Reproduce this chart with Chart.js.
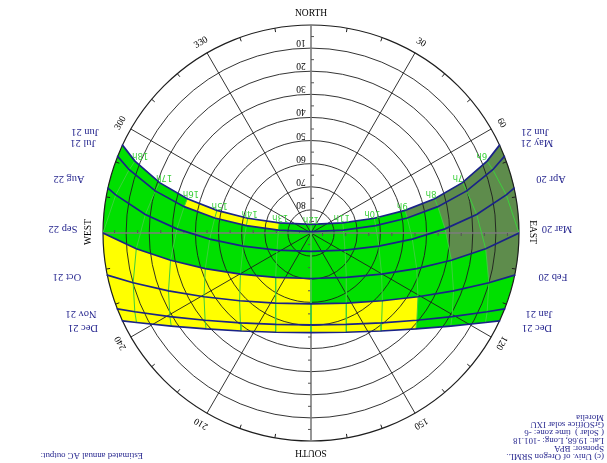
<!DOCTYPE html>
<html>
<head>
<meta charset="utf-8">
<title>Sun path chart - Morelia</title>
<script src="https://cdn.jsdelivr.net/npm/chart.js@4.4.1/dist/chart.umd.min.js"></script>
<style>
  html, body { margin: 0; padding: 0; background: #ffffff; }
  #wrap { width: 607px; height: 463px; }
</style>
</head>
<body>
<div id="wrap"><canvas id="sunchart" width="607" height="463"></canvas></div>
<script>
// ---- Site ----
const siteLatitude = 19.68;
const siteLongitude = -101.18;

// ---- Solar hours (solar time) and their labels ----
const hours = [6, 7, 8, 9, 10, 11, 12, 13, 14, 15, 16, 17, 18];
const hourLabels = ['6h', '7h', '8h', '9h', '10h', '11h', '12h', '13h', '14h', '15h', '16h', '17h', '18h'];

// ---- Date paths (labels on the east and west ends) ----
const eastDateLabels = ['Jun 21', 'May 21', 'Apr 20', 'Mar 20', 'Feb 20', 'Jan 21', 'Dec 21'];
const westDateLabels = ['Jun 21', 'Jul 21', 'Aug 22', 'Sep 22', 'Oct 21', 'Nov 21', 'Dec 21'];

// Solar altitude (deg) at each hour, null = sun below horizon
const altJun21 = [7.70, 20.95, 34.46, 48.14, 61.88, 75.57, 86.24, 75.57, 61.88, 48.14, 34.46, 20.95, 7.70];
const altMay21 = [6.71, 20.21, 33.95, 47.84, 61.84, 75.87, 89.38, 75.87, 61.84, 47.84, 33.95, 20.21, 6.71];
const altApr20 = [3.92, 17.88, 31.96, 46.08, 60.09, 73.52, 82.02, 73.52, 60.09, 46.08, 31.96, 17.88, 3.92];
const altMar20 = [0.00, 14.10, 28.09, 41.74, 54.64, 65.42, 70.32, 65.42, 54.64, 41.74, 28.09, 14.10, 0.00];
const altFeb20 = [null, 10.08, 23.45, 36.11, 47.41, 55.95, 59.32, 55.95, 47.41, 36.11, 23.45, 10.08, null];
const altJan21 = [null, 6.50, 19.05, 30.63, 40.55, 47.59, 50.22, 47.59, 40.55, 30.63, 19.05, 6.50, null];
const altDec21 = [null, 5.14, 17.34, 28.48, 37.89, 44.47, 46.88, 44.47, 37.89, 28.48, 17.34, 5.14, null];

// Solar azimuth (deg from north, clockwise) at each hour
const azJun21 = [67.79, 71.61, 74.52, 76.47, 76.88, 72.24, 0.00, 287.76, 283.12, 283.53, 285.48, 288.39, 292.21];
const azMay21 = [70.80, 74.87, 78.26, 81.14, 83.54, 84.92, 0.00, 275.08, 276.46, 278.86, 281.74, 285.13, 289.20];
const azApr20 = [78.97, 83.63, 88.24, 93.49, 100.94, 116.73, 180.00, 243.27, 259.06, 266.51, 271.76, 276.37, 281.03];
const azMar20 = [90.00, 95.16, 101.00, 108.61, 120.26, 141.50, 180.00, 218.50, 239.74, 251.39, 259.00, 264.84, 270.00];
const azFeb20 = [null, 105.63, 112.09, 120.78, 133.51, 153.01, 180.00, 206.99, 226.49, 239.22, 247.91, 254.37, null];
const azJan21 = [null, 114.08, 120.64, 129.49, 141.84, 158.90, 180.00, 201.10, 218.16, 230.51, 239.36, 245.92, null];
const azDec21 = [null, 117.15, 123.66, 132.43, 144.46, 160.57, 180.00, 199.43, 215.54, 227.57, 236.34, 242.85, null];

// Sunrise / sunset for each date path (solar hour and azimuth)
const sunriseHour = [5.41, 5.49, 5.72, 6.00, 6.27, 6.50, 6.59];
const sunriseAz   = [65.01, 68.38, 77.56, 90.00, 101.69, 111.41, 114.99];
const sunsetHour  = [18.59, 18.51, 18.28, 18.00, 17.73, 17.50, 17.41];
const sunsetAz    = [294.99, 291.62, 282.44, 270.00, 258.31, 248.59, 245.01];

// Shading of each band between two date paths, one code per hour slot
// (slots: horizon-6h, 6-7h, ... 17-18h, 18h-horizon); G green, Y yellow, O olive
const shadingRows = [
  'OOOOGGGGYYYGGG',
  'OOOGGGGGGGGGGG',
  'OOOGGGGGGGGGGG',
  'OOGGGGGYYYYYYY',
  'GGGGYYYYYYYYYY',
  'GGGGYYYYYYYYYY'
];

// ---- Sky grid ----
const altitudeRings = [10, 20, 30, 40, 50, 60, 70, 80];
const azimuthTicks = [30, 60, 120, 150, 210, 240, 300, 330];

// ---- Header / footer text ----
const infoLines = ['Morelia', 'GrSOffice solar IXU', '( Solar )  time zone: -6',
  'Lat: 19.68, Long: -101.18', 'Sponsor: BPA', '(c) Univ. of Oregon SRML.'];
const outputLine = 'Estimated annual AC output:';

// ================= drawing =================
const altTable = [altJun21, altMay21, altApr20, altMar20, altFeb20, altJan21, altDec21];
const azTable = [azJun21, azMay21, azApr20, azMar20, azFeb20, azJan21, azDec21];

const shadeColors = { G: '#00e000', Y: '#ffff00', O: '#5e8c4c' };
const pathColor = '#1a2388';
const hourColor = '#3cd03c';
const monthColor = '#27278f';
const serif = '"Liberation Serif", "DejaVu Serif", serif';

// plan position of a sky point: zenith distance along the azimuth, north up, east right
function plan(az, alt) {
  const zd = 90 - alt;
  const a = az * Math.PI / 180;
  return { x: zd * Math.sin(a), y: zd * Math.cos(a) };
}

function pathNodes(d) {
  const nodes = [{ t: sunriseHour[d], az: sunriseAz[d], alt: 0, edge: 'rise' }];
  hours.forEach((h, i) => {
    if (altTable[d][i] !== null) nodes.push({ t: h, az: azTable[d][i], alt: altTable[d][i] });
  });
  nodes.push({ t: sunsetHour[d], az: sunsetAz[d], alt: 0, edge: 'set' });
  return nodes;
}

// part of a date path between two solar hours; ends on the horizon run out past it
function subPath(d, t1, t2) {
  const nodes = pathNodes(d).filter(n => n.t >= t1 - 1e-6 && n.t <= t2 + 1e-6);
  const pts = nodes.map(n => plan(n.az, n.alt));
  if (nodes.length && nodes[0].edge === 'rise') pts.unshift(plan(nodes[0].az, -35));
  if (nodes.length && nodes[nodes.length - 1].edge === 'set') pts.push(plan(nodes[nodes.length - 1].az, -35));
  return pts;
}

const datasets = [];
altTable.forEach((alts, d) => {
  datasets.push({
    label: eastDateLabels[d] + ' / ' + westDateLabels[d],
    data: pathNodes(d).map(n => plan(n.az, n.alt)),
    showLine: true, borderColor: pathColor, borderWidth: 1.7,
    pointRadius: 0, tension: 0, fill: false
  });
});
hours.forEach((h, i) => {
  const pts = [];
  altTable.forEach((alts, d) => { if (alts[i] !== null) pts.push(plan(azTable[d][i], alts[i])); });
  datasets.push({
    label: hourLabels[i], data: pts,
    showLine: true, borderColor: hourColor, borderWidth: 1,
    pointRadius: 0, tension: 0, fill: false
  });
});

function geom(chart) {
  const xs = chart.scales.x, ys = chart.scales.y;
  const cx = xs.getPixelForValue(0), cy = ys.getPixelForValue(0);
  return { xs, ys, cx, cy, R: xs.getPixelForValue(90) - cx,
    P: p => [xs.getPixelForValue(p.x), ys.getPixelForValue(p.y)] };
}

function textAt(ctx, str, x, y, rotDeg, font, color, align) {
  ctx.save();
  ctx.translate(x, y);
  ctx.rotate(rotDeg * Math.PI / 180);
  ctx.font = font;
  ctx.fillStyle = color;
  ctx.textAlign = align || 'center';
  ctx.textBaseline = 'middle';
  ctx.fillText(str, 0, 0);
  ctx.restore();
}

const skyPlugin = {
  id: 'skyBase',
  beforeDatasetsDraw(chart) {
    const ctx = chart.ctx;
    const { cx, cy, R, P } = geom(chart);
    const poly = (pts, color) => {
      ctx.beginPath();
      pts.forEach((p, i) => { const [X, Y] = P(p); if (i) ctx.lineTo(X, Y); else ctx.moveTo(X, Y); });
      ctx.closePath();
      ctx.fillStyle = color;
      ctx.fill();
    };
    // shaded band, clipped to the horizon
    ctx.save();
    ctx.beginPath();
    ctx.arc(cx, cy, R, 0, Math.PI * 2);
    ctx.clip();
    const last = altTable.length - 1;
    poly(subPath(0, 5, 19).concat(subPath(last, 5, 19).reverse()), shadeColors.G);
    shadingRows.forEach((row, r) => {
      let c = 0;
      while (c < row.length) {
        let e = c;
        while (e + 1 < row.length && row[e + 1] === row[c]) e++;
        if (row[c] !== 'G') {
          const t1 = 5 + c, t2 = 6 + e;
          poly(subPath(r, t1, t2).concat(subPath(r + 1, t1, t2).reverse()), shadeColors[row[c]]);
        }
        c = e + 1;
      }
    });
    ctx.restore();

    // altitude rings
    ctx.save();
    ctx.strokeStyle = '#1e1e1e';
    ctx.lineWidth = 0.9;
    altitudeRings.forEach(a => {
      ctx.beginPath();
      ctx.arc(cx, cy, R * (90 - a) / 90, 0, Math.PI * 2);
      ctx.stroke();
    });
    // azimuth lines
    azimuthTicks.forEach(az => {
      const p = P(plan(az, 0));
      ctx.beginPath(); ctx.moveTo(cx, cy); ctx.lineTo(p[0], p[1]); ctx.stroke();
    });
    // horizon ring and ticks
    ctx.lineWidth = 1.2;
    ctx.beginPath(); ctx.arc(cx, cy, R, 0, Math.PI * 2); ctx.stroke();
    ctx.lineWidth = 1;
    for (let az = 10; az < 360; az += 10) {
      if (az % 30 === 0) continue;
      const a = (az - 90) * Math.PI / 180;
      ctx.beginPath();
      ctx.moveTo(cx + (R - 4) * Math.cos(a), cy + (R - 4) * Math.sin(a));
      ctx.lineTo(cx + R * Math.cos(a), cy + R * Math.sin(a));
      ctx.stroke();
    }
    // main axes
    ctx.strokeStyle = '#7c7c7c';
    ctx.lineWidth = 1.6;
    ctx.beginPath();
    ctx.moveTo(cx, cy - R); ctx.lineTo(cx, cy + R);
    ctx.moveTo(cx - R, cy); ctx.lineTo(cx + R, cy);
    ctx.stroke();
    ctx.lineWidth = 1;
    ctx.strokeStyle = '#555555';
    for (let a = 5; a < 90; a += 10) {
      const r = R * (90 - a) / 90;
      ctx.beginPath();
      ctx.moveTo(cx, cy - r); ctx.lineTo(cx + 3, cy - r);
      ctx.moveTo(cx, cy + r); ctx.lineTo(cx - 3, cy + r);
      ctx.moveTo(cx + r, cy); ctx.lineTo(cx + r, cy + 3);
      ctx.moveTo(cx - r, cy); ctx.lineTo(cx - r, cy - 3);
      ctx.stroke();
    }
    ctx.restore();
  },
  afterDatasetsDraw(chart) {
    const ctx = chart.ctx;
    const { cx, cy, R, P, ys } = geom(chart);
    const f9 = '9.5px ' + serif;
    // compass points
    textAt(ctx, 'NORTH', cx, cy - R - 12, 0, f9, '#000');
    textAt(ctx, 'SOUTH', cx, cy + R + 11, 180, f9, '#000');
    textAt(ctx, 'EAST', cx + R + 13, cy - 1, 90, f9, '#000');
    textAt(ctx, 'WEST', cx - R - 15, cy - 1, -90, f9, '#000');
    // azimuth labels
    azimuthTicks.forEach(az => {
      const a = (az - 90) * Math.PI / 180;
      textAt(ctx, String(az), cx + (R + 12) * Math.cos(a), cy + (R + 12) * Math.sin(a), az, f9, '#000');
    });
    // altitude labels
    altitudeRings.forEach(a => {
      const y = ys.getPixelForValue(90 - a);
      textAt(ctx, String(a), cx - 10, y - 5.5, 180, f9, '#000');
    });
    // hour labels above the Jun 21 path
    hours.forEach((h, i) => {
      const [X, Y] = P(plan(azTable[0][i], altTable[0][i]));
      textAt(ctx, hourLabels[i], X - (X - cx) * 0.03, Y - 5.5, 180, '8.5px "DejaVu Sans", sans-serif', hourColor);
    });
    // date labels
    const labelDy = [-101, -90, -54, -4, 44, 81, 95];
    const labelDx = [224, 226, 240, 246, 242, 228, 226];
    const f10 = '10.5px ' + serif;
    eastDateLabels.forEach((s, d) => textAt(ctx, s, cx + labelDx[d], cy + labelDy[d], 180, f10, monthColor));
    westDateLabels.forEach((s, d) => textAt(ctx, s, cx - labelDx[d] - 2, cy + labelDy[d], 180, f10, monthColor));
    // site information and output caption
    const f85 = '8.8px ' + serif;
    infoLines.forEach((s, i) => textAt(ctx, s, 604, 417 + i * 7.8, 180, f85, monthColor, 'left'));
    textAt(ctx, outputLine, 143, 455, 180, f85, monthColor, 'left');
  }
};

new Chart(document.getElementById('sunchart'), {
  type: 'scatter',
  data: { datasets },
  options: {
    responsive: false,
    animation: false,
    layout: { padding: { left: 103, right: 88, top: 25, bottom: 22 } },
    scales: {
      x: { type: 'linear', min: -90, max: 90, display: false },
      y: { type: 'linear', min: -90, max: 90, display: false }
    },
    plugins: { legend: { display: false }, tooltip: { enabled: false } },
    elements: { line: { borderCapStyle: 'round' } }
  },
  plugins: [skyPlugin]
});
</script>
</body>
</html>
